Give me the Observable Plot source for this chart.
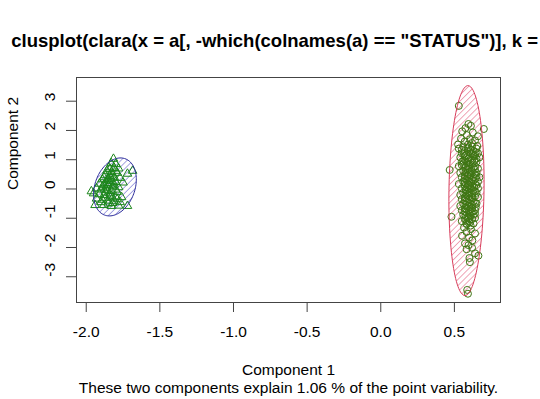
<!DOCTYPE html>
<html><head><meta charset="utf-8">
<script src="https://cdn.jsdelivr.net/npm/d3@7"></script>
<script src="https://cdn.jsdelivr.net/npm/@observablehq/plot@0.6"></script>
<style>html,body{margin:0;padding:0;overflow:hidden;background:#fff}</style>
</head><body><div id="chart"></div>
<script>
const titleText = 'clusplot(clara(x = a[, -which(colnames(a) == "STATUS")], k = 2))';
const xLabel = "Component 1";
const yLabel = "Component 2";
const subtitle = "These two components explain 1.06 % of the point variability.";
const xTicks = [-2.0, -1.5, -1.0, -0.5, 0.0, 0.5];
const yTicks = [-3, -2, -1, 0, 1, 2, 3];

// cluster 1 (triangles)
const cluster1 = [
  [-1.815,1.03],[-1.83,0.88],[-1.80,0.85],[-1.845,0.74],[-1.81,0.72],[-1.78,0.70],[-1.685,0.62],[-1.72,0.52],
  [-1.86,0.62],[-1.83,0.58],[-1.79,0.55],[-1.87,0.47],[-1.84,0.44],[-1.81,0.40],[-1.77,0.38],[-1.89,0.33],
  [-1.86,0.30],[-1.83,0.27],[-1.80,0.24],[-1.75,0.22],[-1.91,0.18],[-1.88,0.14],[-1.85,0.12],[-1.82,0.09],
  [-1.78,0.06],[-1.93,0.02],[-1.90,-0.02],[-1.86,-0.04],[-1.83,-0.07],[-1.79,-0.10],[-1.965,-0.08],[-1.95,-0.15],
  [-1.91,-0.18],[-1.88,-0.21],[-1.84,-0.23],[-1.80,-0.26],[-1.76,-0.28],[-1.93,-0.33],[-1.89,-0.37],[-1.85,-0.40],
  [-1.81,-0.42],[-1.77,-0.45],[-1.94,-0.55],[-1.88,-0.55],[-1.83,-0.58],[-1.78,-0.57],[-1.72,-0.58],[-1.87,0.02],
  [-1.84,0.20],[-1.82,-0.30],
  [-1.85,0.35],[-1.82,0.50],[-1.86,0.05],[-1.84,-0.15],[-1.87,-0.30],[-1.81,0.15],[-1.88,0.40],[-1.80,0.62],
  [-1.83,0.36],[-1.85,-0.50],[-1.79,-0.35],[-1.90,-0.45],[-1.86,0.20],[-1.82,-0.48],[-1.84,0.68],[-1.89,0.08],
  [-1.80,-0.02],[-1.87,-0.12]
];

// cluster 2 (circles)
const cluster2 = [
  [0.530,2.84],[0.595,2.22],[0.612,2.16],[0.575,2.08],[0.700,2.05],[0.553,1.97],[0.625,1.93],[0.660,1.80],
  [0.585,1.84],[0.545,1.72],[0.605,1.70],[0.640,1.66],[0.570,1.62],[0.620,1.57],[0.525,1.52],[0.592,1.52],[0.655,1.47],
  [0.56,1.45],[0.62,1.45],[0.59,1.38],[0.65,1.38],[0.53,1.38],[0.57,1.30],[0.63,1.30],[0.55,1.22],[0.61,1.22],[0.66,1.22],
  [0.58,1.15],[0.64,1.15],[0.54,1.08],[0.60,1.08],[0.67,1.08],[0.57,1.00],[0.62,1.00],[0.59,0.93],[0.65,0.93],[0.55,0.93],
  [0.61,0.85],[0.56,0.85],[0.58,0.78],[0.64,0.78],[0.53,0.78],[0.60,0.70],[0.66,0.70],[0.56,0.62],[0.62,0.62],[0.468,0.65],
  [0.59,0.55],[0.65,0.55],[0.54,0.55],[0.61,0.47],[0.57,0.47],[0.55,0.40],[0.63,0.40],[0.67,0.40],[0.58,0.32],[0.62,0.32],
  [0.56,0.25],[0.60,0.25],[0.66,0.25],[0.59,0.17],[0.64,0.17],[0.53,0.17],[0.57,0.10],[0.62,0.10],[0.55,0.02],[0.61,0.02],
  [0.66,0.02],[0.58,-0.05],[0.63,-0.05],[0.56,-0.13],[0.60,-0.13],[0.65,-0.13],[0.59,-0.20],[0.54,-0.20],[0.57,-0.28],
  [0.62,-0.28],[0.66,-0.28],[0.60,-0.35],[0.55,-0.35],[0.58,-0.43],[0.63,-0.43],[0.56,-0.50],[0.61,-0.50],[0.65,-0.50],
  [0.59,-0.58],[0.54,-0.58],[0.57,-0.65],[0.62,-0.65],[0.60,-0.73],[0.64,-0.73],[0.55,-0.73],[0.58,-0.80],[0.61,-0.80],
  [0.56,-0.88],[0.63,-0.88],[0.59,-0.95],[0.48,-0.95],[0.57,-1.03],[0.62,-1.03],[0.60,-1.10],[0.55,-1.10],[0.58,-1.18],
  [0.63,-1.18],[0.61,-1.25],
  [0.595,1.42],[0.61,1.34],[0.55,1.34],[0.60,1.26],[0.645,1.26],[0.565,1.19],[0.625,1.19],[0.57,1.12],[0.63,1.12],
  [0.595,1.04],[0.65,1.04],[0.56,0.97],[0.635,0.97],[0.585,0.89],[0.625,0.89],[0.60,0.82],[0.55,0.82],[0.575,0.74],
  [0.63,0.74],[0.59,0.66],[0.64,0.66],[0.575,0.58],[0.615,0.58],[0.60,0.51],[0.64,0.51],[0.59,0.44],[0.65,0.44],
  [0.57,0.36],[0.60,0.36],[0.645,0.36],[0.59,0.28],[0.63,0.28],[0.57,0.21],[0.615,0.21],[0.60,0.13],[0.65,0.13],
  [0.585,0.06],[0.635,0.06],[0.575,-0.01],[0.60,-0.01],[0.59,-0.09],[0.64,-0.09],[0.575,-0.16],[0.62,-0.16],
  [0.60,-0.24],[0.64,-0.24],[0.58,-0.32],[0.625,-0.32],[0.57,-0.39],[0.61,-0.39],[0.595,-0.47],[0.64,-0.47],
  [0.575,-0.54],[0.62,-0.54],[0.60,-0.62],[0.645,-0.62],[0.58,-0.69],[0.61,-0.69],[0.57,-0.77],[0.625,-0.77],
  [0.60,-0.84],[0.64,-0.84],[0.575,-0.92],[0.61,-0.92],[0.60,-0.99],[0.64,-0.99],[0.58,-1.06],[0.605,-1.14],[0.585,-1.21],
  [0.565,-1.32],[0.612,-1.37],[0.582,-1.47],[0.640,-1.52],[0.552,-1.60],[0.600,-1.66],[0.622,-1.76],[0.572,-1.86],
  [0.596,-1.92],[0.620,-2.01],[0.583,-2.06],[0.640,-2.20],[0.663,-2.28],[0.602,-2.36],[0.605,-2.50],[0.587,-3.45],[0.592,-3.58]
];

// spanning ellipses: center, major half-axis vector, minor half-axis vector (data units)
const ellipseCenter = [[-1.805, 0.07], [0.582, -0.055]];
const ellipseMajor = [[0.0696, 0.963], [0.0102, 3.587]];
const ellipseMinor = [[0.1275, -0.2337], [0.119, 0]];
const ellipseStroke = ["#2a2a9a", "#d83c5a"];
const ellipseHatch = ["#5050c8", "#e05070"];

function outline(i) {
  const [cx, cy] = ellipseCenter[i], [ax, ay] = ellipseMajor[i], [bx, by] = ellipseMinor[i];
  return d3.range(120).map(k => {
    const t = 2 * Math.PI * k / 120;
    return {x: cx + ax * Math.cos(t) + bx * Math.sin(t), y: cy + ay * Math.cos(t) + by * Math.sin(t)};
  });
}
const ell0 = outline(0), ell1 = outline(1);

const font = "'Liberation Sans', Arial, Helvetica, sans-serif";
const fs = 15.5;

const plot = Plot.plot({
  width: 540, height: 399,
  marginTop: 77, marginBottom: 97, marginLeft: 76, marginRight: 40,
  x: {domain: [-2.066, 0.813], label: null},
  y: {domain: [-3.88, 3.81], label: null},
  style: {fontFamily: font, fontSize: fs + "px", color: "#000", background: "#fff"},
  marks: [
    Plot.line(ell0, {x: "x", y: "y", curve: "linear-closed", fill: "url(#hatch0)", stroke: "none"}),
    Plot.line(ell1, {x: "x", y: "y", curve: "linear-closed", fill: "url(#hatch1)", stroke: "none"}),
    Plot.dot(cluster2, {x: d => d[0], y: d => d[1], r: 3.5, stroke: "#3f7614", strokeWidth: 1, fill: "none"}),
    Plot.dot(cluster1, {x: d => d[0], y: d => d[1], r: 3.2, symbol: "triangle", stroke: "#1c861c", strokeWidth: 1, fill: "none"}),
    Plot.line(ell0, {x: "x", y: "y", curve: "linear-closed", stroke: ellipseStroke[0], strokeWidth: 1}),
    Plot.line(ell1, {x: "x", y: "y", curve: "linear-closed", stroke: ellipseStroke[1], strokeWidth: 1}),
    Plot.frame({stroke: "#444", strokeWidth: 1}),
    Plot.axisX({ticks: xTicks, tickSize: 10, tickFormat: () => "", stroke: "#444", label: null}),
    Plot.axisY({ticks: yTicks, tickSize: 10, tickFormat: () => "", stroke: "#444", label: null}),
    Plot.text(xTicks, {x: d => d, text: d => d.toFixed(1), frameAnchor: "bottom", dy: 30, lineAnchor: "middle", fontSize: fs}),
    Plot.text(yTicks, {y: d => d, text: d => String(d), frameAnchor: "left", dx: -26.7, rotate: -90, lineAnchor: "middle", fontSize: fs}),
    Plot.text([xLabel], {text: d => d, frameAnchor: "bottom", dy: 68, lineAnchor: "middle", fontSize: fs}),
    Plot.text([subtitle], {text: d => d, frameAnchor: "bottom", dy: 86, lineAnchor: "middle", fontSize: fs}),
    Plot.text([yLabel], {text: d => d, frameAnchor: "left", dx: -63.5, rotate: -90, lineAnchor: "middle", fontSize: fs}),
    Plot.text([titleText], {text: d => d, frameAnchor: "top", dy: -36, lineAnchor: "middle", fontSize: 18.5, fontWeight: "bold"})
  ]
});

const svg = d3.select(plot);
const defs = svg.insert("defs", ":first-child");
[0, 1].forEach(i => {
  const p = defs.append("pattern").attr("id", "hatch" + i)
    .attr("patternUnits", "userSpaceOnUse").attr("width", 4.3).attr("height", 4.3)
    .attr("patternTransform", "rotate(45)");
  p.append("line").attr("x1", 0).attr("y1", -1).attr("x2", 0).attr("y2", 6)
    .attr("stroke", ellipseHatch[i]).attr("stroke-width", 1);
});

document.getElementById("chart").appendChild(plot);
</script>
</body></html>
